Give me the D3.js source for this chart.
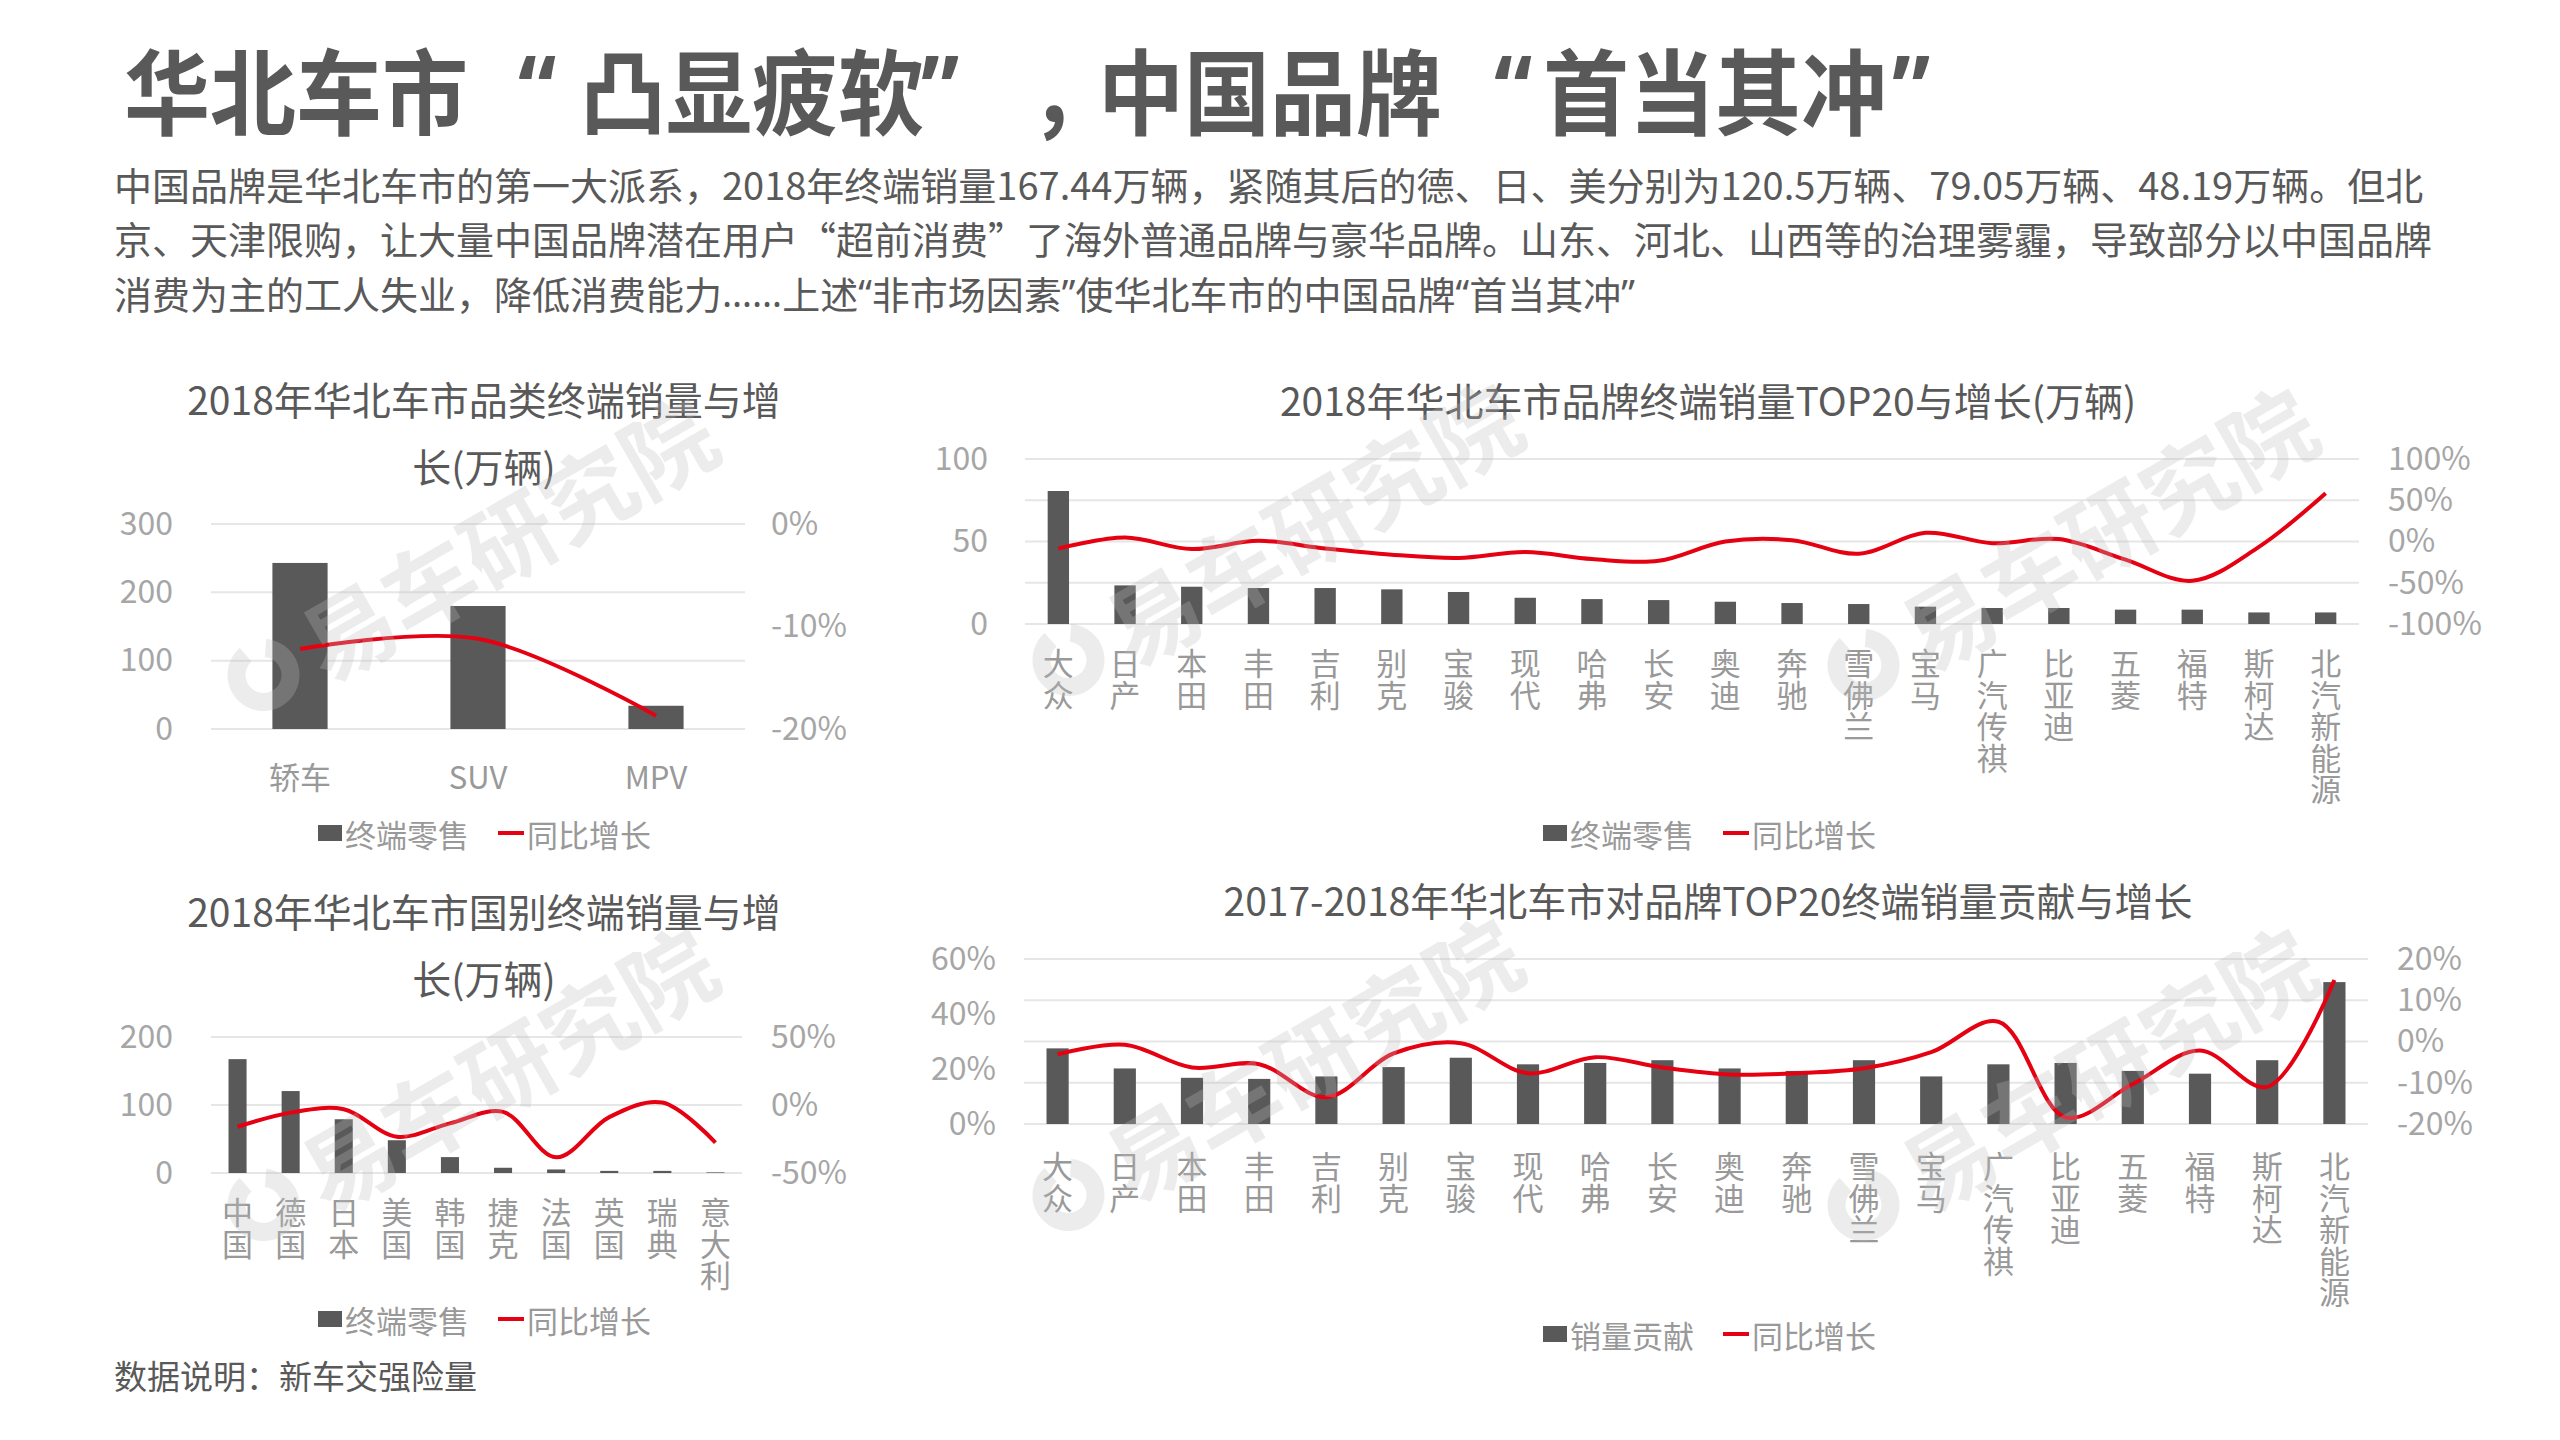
<!DOCTYPE html>
<html>
<head>
<meta charset="utf-8">
<script src="https://cdn.jsdelivr.net/npm/d3@7"></script>
<style>
body { margin: 0; background: #fff; }
svg text { font-family: "Noto Sans CJK SC", "Noto Sans", sans-serif; }
</style>
</head>
<body>
<svg id="page" width="2560" height="1440"></svg>
<script>
// ---- data ----
var catNames = ["轿车", "SUV", "MPV"];
var catSales = [243, 180, 34];
var catGrowth = [-12.2, -11.2, -18.7];
var catLeftTicks = [0, 100, 200, 300];
var catRightTicks = [-20, -10, 0];

var brandNames = ["大众", "日产", "本田", "丰田", "吉利", "别克", "宝骏", "现代", "哈弗", "长安",
    "奥迪", "奔驰", "雪佛兰", "宝马", "广汽传祺", "比亚迪", "五菱", "福特", "斯柯达", "北汽新能源"];
var brandSales = [80.6, 23.4, 22.6, 21.8, 21.8, 21.0, 19.4, 15.9, 15.1, 14.5,
    13.5, 12.7, 12.1, 10.5, 9.7, 9.7, 8.7, 8.7, 7.0, 7.0];
var brandGrowth = [-8.5, 4.8, -9.2, 0.8, -8.5, -16, -20, -12.8, -21.3, -23.4,
    0, 1.6, -14.9, 10.5, -2, 2.9, -22, -47.6, -6.5, 58.6];
var brandLeftTicks = [0, 50, 100];
var brandRightTicks = [-100, -50, 0, 50, 100];

var countryNames = ["中国", "德国", "日本", "美国", "韩国", "捷克", "法国", "英国", "瑞典", "意大利"];
var countrySales = [167.44, 120.5, 79.05, 48.19, 23.4, 7.7, 5.2, 3.1, 3.1, 0.9];
var countryGrowth = [-16, -5.6, -3.1, -23.3, -13.5, -5.1, -38.5, -8.9, 1.8, -27.6];
var countryLeftTicks = [0, 100, 200];
var countryRightTicks = [-50, 0, 50];

var contribShare = [27.5, 20.2, 16.8, 16.4, 17.3, 20.7, 24.1, 21.7, 22.2, 23.2,
    20.2, 19.3, 23.2, 17.3, 21.7, 22.2, 19.3, 18.3, 23.2, 51.6];
var contribGrowth = [-3.1, -0.8, -6.3, -5.5, -13.5, -2.9, -0.4, -7.7, -3.8, -6.3,
    -8.0, -7.7, -6.5, -2.6, 4.8, -18.4, -10.3, -2.2, -11, 14.9];
var contribLeftTicks = [0, 20, 40, 60];
var contribRightTicks = [-20, -10, 0, 10, 20];

var titleParts = ["华北车市", "“", "凸显疲软", "”", "，", "中国品牌", "“", "首当其冲", "”"];
var introLines = [
    "中国品牌是华北车市的第一大派系，2018年终端销量167.44万辆，紧随其后的德、日、美分别为120.5万辆、79.05万辆、48.19万辆。但北",
    "京、天津限购，让大量中国品牌潜在用户“超前消费”了海外普通品牌与豪华品牌。山东、河北、山西等的治理雾霾，导致部分以中国品牌",
    "消费为主的工人失业，降低消费能力……上述“非市场因素”使华北车市的中国品牌“首当其冲”"
];
var footnote = "数据说明：新车交强险量";

var barColor = "#595959";
var lineColor = "#e50012";
var tickColor = "#a6a6a6";
var labelColor = "#999999";
var darkText = "#595959";

var svg = d3.select("#page");

// page header, quotes set narrow like the original deck
var titleX = [124, 518, 580, 921, 1030, 1098, 1494, 1543, 1892];
svg.append("g")
    .attr("transform", "translate(0,87) scale(1,1.09)")
    .append("text")
    .attr("y", 0)
    .attr("dominant-baseline", "central")
    .attr("font-size", 86).attr("font-weight", "bold")
    .attr("fill", darkText)
    .selectAll("tspan").data(titleParts).enter().append("tspan")
    .attr("x", function (d, i) { return titleX[i]; })
    .attr("font-family", function (d) { return /[“”]/.test(d) ? "\"Noto Sans\", sans-serif" : null; })
    .text(function (d) { return d; });

var intro = svg.selectAll(".intro").data(introLines).enter().append("text")
    .attr("class", "intro")
    .attr("x", 114)
    .attr("y", function (d, i) { return 183 + i * 54.5; })
    .attr("dominant-baseline", "central")
    .attr("font-size", 38)
    .attr("fill", darkText);
intro.each(function (d, i) {
    var t = d3.select(this);
    if (i < 2) { t.text(d); return; }
    // last line uses narrow western quotes and dots
    d.split(/([“”…]+)/).filter(function (s) { return s.length; }).forEach(function (s) {
        t.append("tspan")
            .attr("font-family", /[“”…]/.test(s) ? "\"Noto Sans\", sans-serif" : null)
            .text(s);
    });
});

svg.append("text")
    .attr("x", 114).attr("y", 1375)
    .attr("dominant-baseline", "central")
    .attr("font-size", 33)
    .attr("fill", darkText)
    .text(footnote);

function pct(v) { return v + "%"; }

function drawCombo(o) {
    var g = svg.append("g");

    var x = d3.scaleBand().domain(o.names).range([o.x0, o.x1])
        .paddingInner(o.pad).paddingOuter(o.pad / 2);
    var yL = d3.scaleLinear().domain(o.leftDomain).range([o.yBottom, o.yTop]);
    var yR = d3.scaleLinear().domain(o.rightDomain).range([o.yBottom, o.yTop]);

    // gridlines
    var gs = o.gridRight ? yR : yL;
    var gt = o.gridRight ? o.rightTicks : o.leftTicks;
    g.selectAll(".grid").data(gt).enter().append("line")
        .attr("x1", o.x0).attr("x2", o.x1)
        .attr("y1", function (d) { return gs(d); })
        .attr("y2", function (d) { return gs(d); })
        .attr("stroke", "#e6e6e6").attr("stroke-width", 2);

    // bars
    g.selectAll(".bar").data(o.bars).enter().append("rect")
        .attr("x", function (d, i) { return x(o.names[i]); })
        .attr("width", x.bandwidth())
        .attr("y", function (d) { return yL(d); })
        .attr("height", function (d) { return yL(0) - yL(d); })
        .attr("fill", barColor);

    // growth line
    var line = d3.line()
        .x(function (d, i) { return x(o.names[i]) + x.bandwidth() / 2; })
        .y(function (d) { return yR(d); })
        .curve(d3.curveCatmullRom.alpha(0.5));
    g.append("path").datum(o.line)
        .attr("d", line)
        .attr("fill", "none")
        .attr("stroke", lineColor)
        .attr("stroke-width", 4);

    // axes
    var la = g.append("g").attr("transform", "translate(" + o.x0 + ",0)")
        .call(d3.axisLeft(yL).tickValues(o.leftTicks).tickSize(0).tickPadding(o.leftPad).tickFormat(o.leftFmt));
    var ra = g.append("g").attr("transform", "translate(" + o.x1 + ",0)")
        .call(d3.axisRight(yR).tickValues(o.rightTicks).tickSize(0).tickPadding(o.rightPad).tickFormat(pct));
    [la, ra].forEach(function (a) {
        a.select(".domain").remove();
        a.selectAll("text").attr("font-size", 32).attr("fill", tickColor)
            .attr("font-family", "\"Noto Sans CJK SC\", sans-serif");
    });

    // category labels
    var cg = g.append("g");
    var cl = cg.selectAll("text").data(o.names).enter().append("text")
        .attr("text-anchor", "middle")
        .attr("font-size", 31)
        .attr("fill", labelColor)
        .attr("x", function (d) { return x(d) + x.bandwidth() / 2; })
        .attr("y", o.yBottom + o.catOffset)
        .attr("dominant-baseline", "central");
    if (o.vertical) {
        cl.selectAll("tspan").data(function (d) { return d.split(""); }).enter().append("tspan")
            .attr("x", function () { return this.parentNode.getAttribute("x"); })
            .attr("dy", function (d, i) { return i === 0 ? 0 : 31.5; })
            .text(function (d) { return d; });
    } else {
        cl.text(function (d) { return d; });
    }

    // title
    g.selectAll(".ttl").data(o.title).enter().append("text")
        .attr("x", o.titleX)
        .attr("y", function (d, i) { return o.titleY + i * 67; })
        .attr("text-anchor", "middle")
        .attr("dominant-baseline", "central")
        .attr("font-size", 39)
        .attr("fill", darkText)
        .text(function (d) { return d; });

    // legend
    var lg = g.append("g").attr("transform", "translate(" + o.legendX + "," + o.legendY + ")");
    lg.append("rect").attr("x", 0).attr("y", -8).attr("width", 24).attr("height", 16).attr("fill", barColor);
    lg.append("text").attr("x", 27).attr("y", 0).attr("dominant-baseline", "central")
        .attr("font-size", 31).attr("fill", labelColor).text(o.legendBar);
    lg.append("line").attr("x1", 180).attr("x2", 206).attr("y1", 0).attr("y2", 0)
        .attr("stroke", lineColor).attr("stroke-width", 4);
    lg.append("text").attr("x", 209).attr("y", 0).attr("dominant-baseline", "central")
        .attr("font-size", 31).attr("fill", labelColor).text("同比增长");
}

drawCombo({
    names: catNames, bars: catSales, line: catGrowth,
    x0: 211, x1: 745, yTop: 524, yBottom: 729, pad: 0.69,
    leftDomain: [0, 300], rightDomain: [-20, 0],
    leftTicks: catLeftTicks, rightTicks: catRightTicks, gridRight: false,
    leftPad: 38, rightPad: 26, leftFmt: function (d) { return d; },
    vertical: false, catOffset: 46,
    title: ["2018年华北车市品类终端销量与增", "长(万辆)"], titleX: 484, titleY: 398,
    legendX: 318, legendY: 833, legendBar: "终端零售"
});

drawCombo({
    names: brandNames, bars: brandSales, line: brandGrowth,
    x0: 1025, x1: 2359, yTop: 459, yBottom: 624, pad: 0.68,
    leftDomain: [0, 100], rightDomain: [-100, 100],
    leftTicks: brandLeftTicks, rightTicks: brandRightTicks, gridRight: true,
    leftPad: 37, rightPad: 29, leftFmt: function (d) { return d; },
    vertical: true, catOffset: 37,
    title: ["2018年华北车市品牌终端销量TOP20与增长(万辆)"], titleX: 1708, titleY: 399,
    legendX: 1543, legendY: 833, legendBar: "终端零售"
});

drawCombo({
    names: countryNames, bars: countrySales, line: countryGrowth,
    x0: 211, x1: 742, yTop: 1037, yBottom: 1173, pad: 0.66,
    leftDomain: [0, 200], rightDomain: [-50, 50],
    leftTicks: countryLeftTicks, rightTicks: countryRightTicks, gridRight: false,
    leftPad: 38, rightPad: 29, leftFmt: function (d) { return d; },
    vertical: true, catOffset: 37,
    title: ["2018年华北车市国别终端销量与增", "长(万辆)"], titleX: 484, titleY: 910,
    legendX: 318, legendY: 1319, legendBar: "终端零售"
});

drawCombo({
    names: brandNames, bars: contribShare, line: contribGrowth,
    x0: 1024, x1: 2368, yTop: 959, yBottom: 1124, pad: 0.67,
    leftDomain: [0, 60], rightDomain: [-20, 20],
    leftTicks: contribLeftTicks, rightTicks: contribRightTicks, gridRight: true,
    leftPad: 28, rightPad: 29, leftFmt: pct,
    vertical: true, catOffset: 40,
    title: ["2017-2018年华北车市对品牌TOP20终端销量贡献与增长"], titleX: 1708, titleY: 899,
    legendX: 1543, legendY: 1334, legendBar: "销量贡献"
});

// watermarks
var marks = [[480, 550], [1285, 535], [2080, 540], [480, 1080], [1285, 1070], [2080, 1080]];
var wm = svg.selectAll(".wm").data(marks).enter().append("g")
    .attr("transform", function (d) { return "translate(" + d[0] + "," + d[1] + ") rotate(-30)"; })
    .attr("opacity", 0.28);
wm.append("path")
    .attr("transform", "translate(-250,0)")
    .attr("d", d3.arc().innerRadius(18).outerRadius(36).startAngle(0.6).endAngle(2 * Math.PI - 0.2)())
    .attr("fill", "#bdbdbd");
wm.append("text")
    .attr("x", -200).attr("y", 0)
    .attr("dominant-baseline", "central")
    .attr("font-size", 92).attr("font-weight", "bold")
    .attr("fill", "#bdbdbd")
    .text("易车研究院");
</script>
</body>
</html>
